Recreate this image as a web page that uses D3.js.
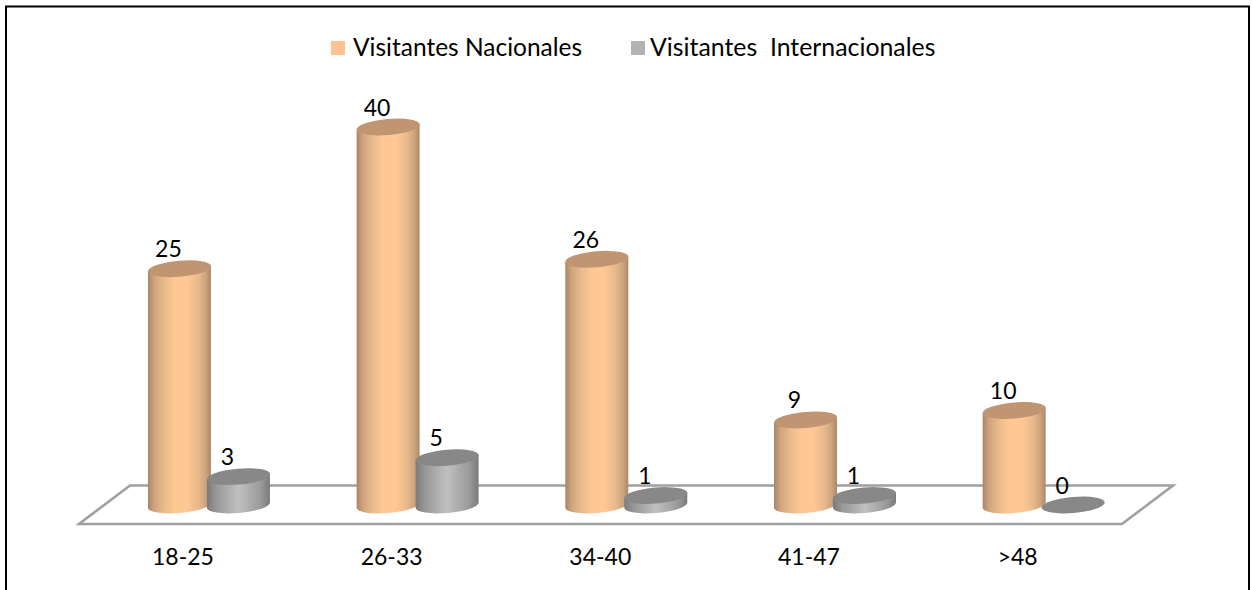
<!DOCTYPE html>
<html><head><meta charset="utf-8">
<script src="https://cdn.jsdelivr.net/npm/d3@7/dist/d3.min.js"></script>
<style>html,body{margin:0;padding:0;background:#fff;overflow:hidden}svg{display:block}text{font-family:Lato,Carlito,"Open Sans",sans-serif;fill:#000}</style>
</head><body><svg id="c" width="1253" height="590"></svg>
<script>
const categories = ["18-25","26-33","34-40","41-47",">48"];
const seriesNames = ["Visitantes Nacionales","Visitantes  Internacionales"];
const nacionales = [25,40,26,9,10];
const internacionales = [3,5,1,1,0];

const svg = d3.select("#c");
const defs = svg.append("defs");
function grad(id, stops){
  const g = defs.append("linearGradient").attr("id",id);
  stops.forEach(([o,c])=>g.append("stop").attr("offset",o).attr("stop-color",c));
}
grad("gO",[[0,"#a98566"],[.1,"#cfa47d"],[.25,"#e8b98c"],[.42,"#fec894"],[.62,"#fec894"],[.8,"#e8b98c"],[.92,"#cda27c"],[1,"#a98868"]]);
grad("gG",[[0,"#7a7a7a"],[.15,"#989898"],[.5,"#c0c0c0"],[.85,"#9a9a9a"],[1,"#7a7a7a"]]);
const palette = [{body:"url(#gO)",top:"#bf9572",swatch:"#fec38f"},{body:"url(#gG)",top:"#888888",swatch:"#b2b2b2"}];

// frame
svg.append("path").attr("d","M6,590V6.5H1249V590").attr("fill","none").attr("stroke","#000").attr("stroke-width",2);

// scales
const x0 = d3.scaleBand().domain(categories).range([104.6,1148]);
const x1 = d3.scalePoint().domain(seriesNames).range([-29.5,29.5]);
const y = d3.scaleLinear().domain([0,40]).range([505,127]);

// floor
const baseY = y(0);
const floorPts = [[x0.range()[0]+25.4,baseY-19.5],[x0.range()[1]+25,baseY-19.5],[x0.range()[1]-26,baseY+19],[x0.range()[0]-25.6,baseY+19]];
svg.append("path").attr("d",d3.line()(floorPts)+"Z").attr("fill","#fff").attr("stroke","#a0a0a0").attr("stroke-width",2.6).attr("stroke-linejoin","miter");

// cylinders
const rx = 31.5, ry = 8, tilt = -5, dy = 2.8;
const rows = categories.map((c,i)=>({c,vals:[nacionales[i],internacionales[i]]}));
const groups = svg.selectAll("g.cat").data(rows).join("g").attr("class","cat");
seriesNames.forEach((s,si)=>{
  const gs = groups.append("g").attr("class","s"+si);
  gs.each(function(d){
    const g = d3.select(this), v = d.vals[si];
    const cx = x0(d.c)+x0.bandwidth()/2+x1(s), ty = y(v), by = y(0);
    if(v>0){
      g.append("path").attr("fill",palette[si].body)
       .attr("d",`M${cx-rx},${ty+dy}L${cx-rx},${by+dy}A${rx},${ry} ${tilt} 0 0 ${cx+rx},${by-dy}L${cx+rx},${ty-dy}Z`);
    }
    g.append("ellipse").attr("cx",cx).attr("cy",ty).attr("rx",rx+.2).attr("ry",ry)
     .attr("transform",`rotate(${tilt} ${cx} ${ty})`).attr("fill",palette[si].top);
    g.append("text").attr("x",cx-11).attr("y",ty-11.5).attr("text-anchor","middle").attr("font-size",23).text(v);
  });
});

// category axis
const axis = svg.append("g").attr("transform","translate(-26,549)").call(d3.axisBottom(x0).tickSize(0).tickPadding(0));
axis.select(".domain").remove();
axis.selectAll("text").attr("font-size",23).attr("fill","#000").style("font-family",'Lato,Carlito,sans-serif');

// legend
const lx = [331,631], tx = [353,650], ls = [24.5,24.85];
seriesNames.forEach((s,i)=>{
  svg.append("rect").attr("x",lx[i]).attr("y",41).attr("width",14).attr("height",14).attr("fill",palette[i].swatch);
  svg.append("text").attr("x",tx[i]).attr("y",56).attr("font-size",ls[i]).style("white-space","pre").text(s);
});
</script></body></html>
